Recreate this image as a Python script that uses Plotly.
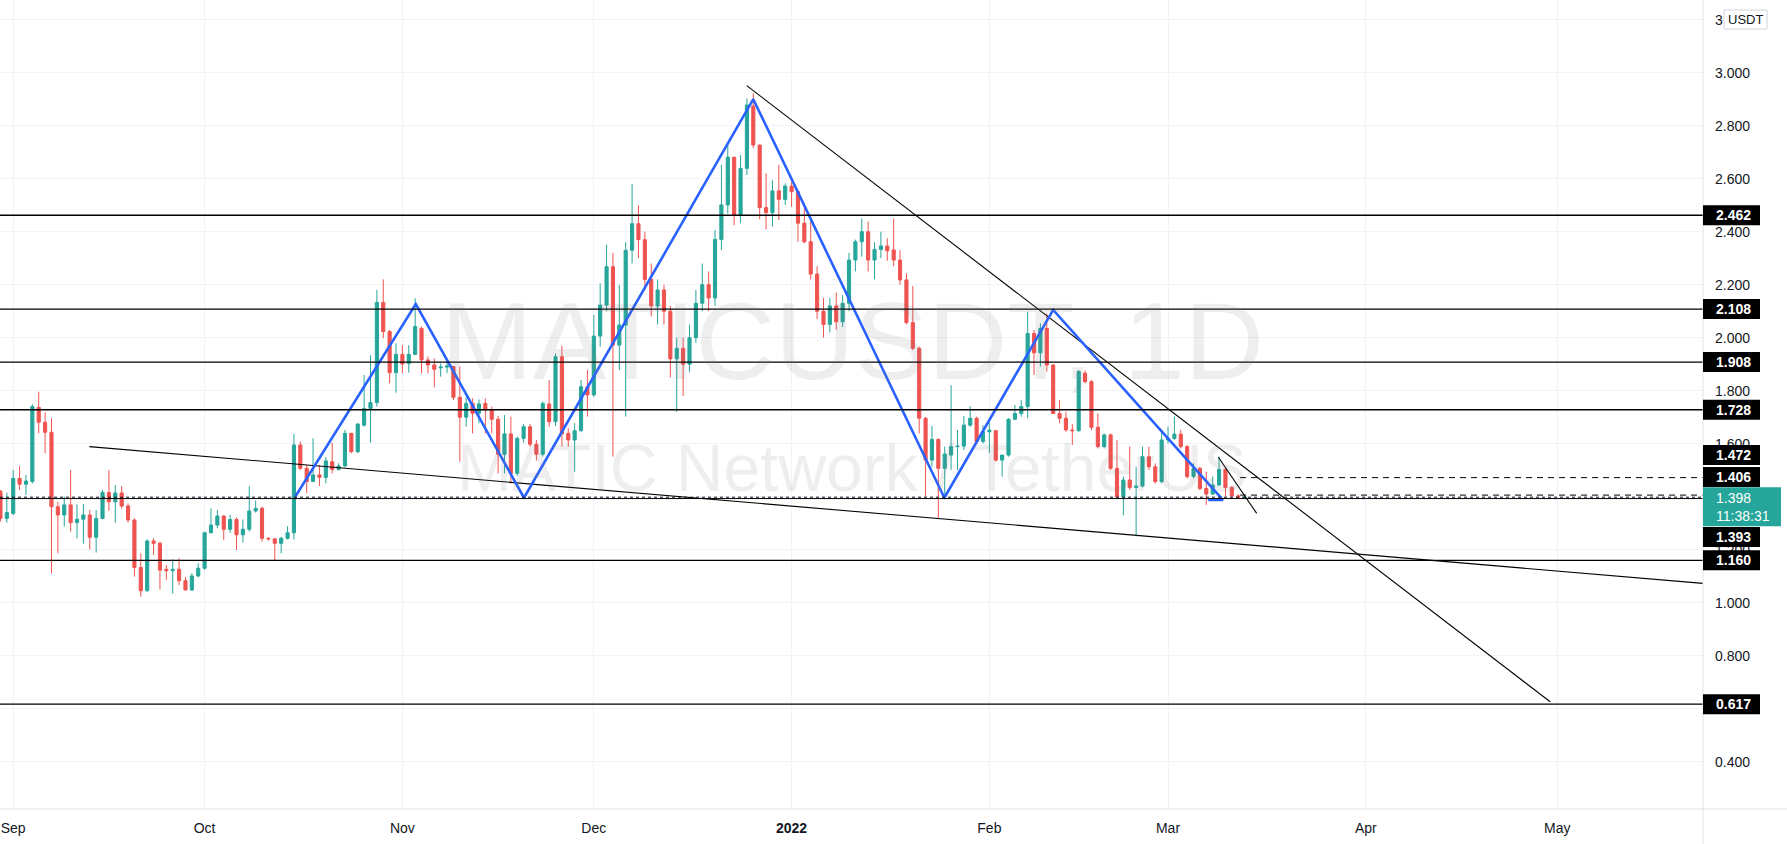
import pandas as pd
import plotly.graph_objects as go

# ---------------- data ----------------
first_day = "2021-08-30"
opens = [1.421,1.318,1.337,1.469,1.447,1.457,1.737,1.681,1.643,1.362,1.331,1.369,1.302,1.315,1.331,1.247,1.318,1.416,1.381,1.414,1.365,1.312,1.133,1.045,1.233,1.224,1.126,1.121,1.126,1.083,1.048,1.101,1.130,1.264,1.293,1.327,1.277,1.314,1.256,1.277,1.346,1.356,1.243,1.241,1.224,1.243,
         1.264,1.595,1.507,1.457,1.482,1.473,1.532,1.503,1.516,1.639,1.570,1.670,1.733,1.755,2.133,2.023,1.868,1.937,1.903,1.937,2.035,1.916,1.897,1.886,1.889,1.891,1.775,1.700,1.752,1.715,1.752,1.727,1.692,1.560,1.637,1.488,1.620,1.664,1.598,1.560,1.750,1.683,1.928,1.639,1.614,1.649,1.815,1.784,2.006,2.123,2.268,1.972,2.048,
         2.330,2.430,2.370,2.220,2.120,2.180,2.100,1.920,1.960,1.900,2.000,2.130,2.200,2.150,
         2.371,2.501,2.681,2.463,2.639,2.874,2.727,2.491,2.472,2.554,2.522,2.572,2.551,2.432,
         2.362,2.240,2.100,2.050,2.120,2.060,2.130,2.293,2.362,2.400,2.293,2.333,2.346,2.331,2.293,
         2.218,2.057,1.960,1.696,1.538,1.616,1.507,1.557,1.589,1.591,1.670,1.696,1.608,1.645,1.649,1.538,1.557,1.692,1.714,1.740,2.016,1.943,2.035,1.897,1.714,1.696,1.652,1.649,1.866,1.834,1.662,1.589,1.633,1.507,1.400,1.463,1.435,1.440,1.551,1.513,1.457,1.614,1.620,1.636,1.589,1.476,1.507,1.431,1.410,1.444,1.503,1.435,1.403,1.396]
highs = [1.425,1.415,1.501,1.516,1.482,1.749,1.796,1.718,1.696,1.381,1.400,1.501,1.371,1.372,1.350,1.350,1.425,1.501,1.444,1.440,1.375,1.318,1.186,1.239,1.243,1.230,1.142,1.164,1.168,1.098,1.111,1.149,1.268,1.356,1.350,1.331,1.331,1.322,1.314,1.440,1.385,1.362,1.247,1.241,1.249,1.289,
         1.637,1.608,1.520,1.620,1.520,1.549,1.604,1.526,1.652,1.641,1.677,1.859,1.934,2.180,2.220,2.029,1.979,1.972,1.972,2.149,2.042,1.929,1.922,1.903,1.910,1.893,1.891,1.775,1.771,1.767,1.771,1.740,1.705,1.708,1.702,1.627,1.674,1.674,1.614,1.759,1.840,1.941,1.969,1.658,1.677,1.840,1.878,2.086,2.205,2.350,2.320,2.199,2.360,
         2.580,2.500,2.400,2.280,2.220,2.200,2.120,2.000,2.000,2.050,2.180,2.280,2.250,2.406,
         2.652,2.736,2.683,2.689,2.903,2.922,2.727,2.620,2.595,2.652,2.582,2.589,2.557,2.507,
         2.450,2.270,2.150,2.150,2.170,2.160,2.320,2.370,2.450,2.438,2.360,2.400,2.375,2.450,2.330,
         2.243,2.195,1.966,1.700,1.667,1.620,1.589,1.821,1.652,1.704,1.742,1.702,1.670,1.679,1.652,1.557,1.696,1.746,1.765,2.098,2.029,2.054,2.092,1.900,1.765,1.721,1.674,1.878,1.876,1.840,1.714,1.639,1.639,1.614,1.476,1.589,1.513,1.589,1.589,1.526,1.652,1.664,1.702,1.652,1.595,1.526,1.513,1.494,1.476,1.551,1.511,1.440,1.410,1.410]
lows = [1.306,1.302,1.331,1.425,1.406,1.450,1.639,1.564,1.111,1.186,1.287,1.268,1.243,1.222,1.201,1.189,1.315,1.347,1.302,1.355,1.302,1.098,1.023,1.042,1.180,1.050,1.086,1.035,1.067,1.046,1.045,1.096,1.124,1.262,1.281,1.237,1.264,1.199,1.227,1.268,1.340,1.230,1.234,1.161,1.186,1.239,
        1.239,1.501,1.413,1.457,1.440,1.450,1.488,1.498,1.511,1.564,1.564,1.664,1.604,1.740,1.998,1.828,1.792,1.866,1.868,1.935,1.866,1.866,1.813,1.853,1.866,1.765,1.532,1.664,1.639,1.677,1.639,1.639,1.488,1.488,1.450,1.478,1.604,1.589,1.536,1.551,1.664,1.667,1.589,1.589,1.494,1.645,1.702,1.777,1.966,2.100,1.551,1.878,1.702,
        2.280,2.300,2.180,2.080,2.050,2.050,1.850,1.720,1.780,1.870,1.980,2.100,2.100,2.120,
        2.330,2.469,2.425,2.432,2.614,2.715,2.447,2.409,2.419,2.444,2.501,2.494,2.362,2.356,
        2.220,2.070,2.000,2.020,2.030,2.040,2.100,2.250,2.306,2.250,2.220,2.300,2.290,2.270,2.200,
        2.050,1.953,1.639,1.400,1.513,1.320,1.390,1.501,1.501,1.576,1.664,1.601,1.601,1.564,1.532,1.476,1.551,1.689,1.702,1.696,1.859,1.891,1.872,1.714,1.677,1.645,1.595,1.645,1.828,1.652,1.582,1.582,1.501,1.394,1.330,1.425,1.250,1.435,1.501,1.450,1.450,1.601,1.614,1.582,1.469,1.469,1.425,1.369,1.407,1.440,1.400,1.394,1.394,1.393]
closes = [1.318,1.340,1.469,1.447,1.459,1.740,1.681,1.643,1.362,1.331,1.369,1.302,1.315,1.331,1.247,1.318,1.416,1.381,1.414,1.365,1.312,1.133,1.045,1.233,1.224,1.123,1.121,1.126,1.083,1.048,1.101,1.130,1.264,1.293,1.327,1.277,1.314,1.256,1.277,1.346,1.356,1.243,1.241,1.224,1.243,1.264,
          1.595,1.507,1.457,1.482,1.473,1.535,1.503,1.516,1.639,1.570,1.674,1.733,1.755,2.133,2.023,1.868,1.937,1.901,1.937,2.042,1.916,1.897,1.881,1.889,1.893,1.775,1.700,1.752,1.715,1.750,1.727,1.692,1.560,1.637,1.488,1.620,1.664,1.598,1.560,1.752,1.683,1.928,1.637,1.614,1.649,1.815,1.784,2.006,2.123,2.268,1.972,2.048,2.330,
          2.430,2.370,2.220,2.120,2.180,2.100,1.920,1.960,1.900,2.000,2.130,2.200,2.150,2.371,
          2.501,2.681,2.463,2.639,2.878,2.727,2.491,2.472,2.554,2.522,2.572,2.551,2.432,2.362,
          2.240,2.100,2.050,2.120,2.060,2.130,2.293,2.362,2.400,2.293,2.333,2.346,2.328,2.293,2.218,
          2.057,1.960,1.696,1.538,1.616,1.507,1.561,1.589,1.591,1.670,1.696,1.608,1.645,1.651,1.538,1.557,1.692,1.714,1.740,2.016,1.943,2.035,1.897,1.714,1.696,1.652,1.649,1.872,1.834,1.662,1.589,1.633,1.507,1.400,1.463,1.435,1.440,1.551,1.513,1.457,1.614,1.620,1.636,1.589,1.476,1.507,1.431,1.410,1.444,1.503,1.435,1.403,1.398,1.398]

level_prices = [2.462, 2.108, 1.908, 1.728, 1.160, 0.617]
support_price = 1.393
dashed_levels = [1.472, 1.406]
dashed_start = "2022-03-12 07:00"
last_price = 1.398
countdown = "11:38:31"

zigzag_dates = ["2021-10-15 04:48", "2021-11-03 02:24", "2021-11-20 01:26", "2021-12-26 00:00",
                "2022-01-24 22:33", "2022-02-11 00:00", "2022-03-09 14:24", "2022-03-07 07:12"]
zigzag_prices = [1.400, 2.127, 1.396, 2.900, 1.396, 2.105, 1.388, 1.388]

upper_trend_dates = ["2021-12-24 23:17", "2022-04-29 21:36"]
upper_trend_prices = [2.951, 0.626]
lower_trend_dates = ["2021-09-12 22:19", "2022-05-23 20:00"]
lower_trend_prices = [1.589, 1.073]
small_trend_dates = ["2022-03-08 21:36", "2022-03-14 21:36"]
small_trend_prices = [1.549, 1.337]

month_ticks = ["2021-09-01", "2021-10-01", "2021-11-01", "2021-12-01", "2022-01-01",
               "2022-02-01", "2022-03-01", "2022-04-01", "2022-05-01"]
month_labels = ["Sep", "Oct", "Nov", "Dec", "<b>2022</b>", "Feb", "Mar", "Apr", "May"]
price_ticks = [0.4, 0.6, 0.8, 1.0, 1.2, 1.4, 1.6, 1.8, 2.0, 2.2, 2.4, 2.6, 2.8, 3.0, 3.2]
# labels hidden under price tags in the reference are blank; "3.200" shows only its "3"
price_tick_text = ["0.400", "", "0.800", "1.000", "1.200", "", "1.600", "1.800", "2.000",
                   "2.200", "2.400", "2.600", "2.800", "3.000", "3"]
x_range = ["2021-08-29 22:20", "2022-05-23 20:24"]
y_range = [0.2215, 3.2743]

# ---------------- figure ----------------
dates = pd.date_range(first_day, periods=len(opens), freq="D")
UP, DOWN = "#26a69a", "#ef5350"
FONT = "Trebuchet MS, Liberation Sans, Arial, sans-serif"

fig = go.Figure()
fig.add_trace(go.Candlestick(
    x=dates, open=opens, high=highs, low=lows, close=closes,
    increasing=dict(line=dict(color=UP, width=1), fillcolor=UP),
    decreasing=dict(line=dict(color=DOWN, width=1), fillcolor=DOWN),
    whiskerwidth=0, hoverinfo="skip"))

line_black = dict(color="#000000", width=1.3)
for xs, ys in [(upper_trend_dates, upper_trend_prices), (lower_trend_dates, lower_trend_prices),
               (small_trend_dates, small_trend_prices)]:
    fig.add_trace(go.Scatter(x=xs, y=ys, mode="lines",
                             line=dict(color="#000000", width=1.1), hoverinfo="skip"))
for lv in dashed_levels:
    fig.add_trace(go.Scatter(x=[dashed_start, x_range[1]], y=[lv, lv], mode="lines",
                             line=dict(color="#000000", width=1, dash="6px,5px"), hoverinfo="skip"))
fig.add_trace(go.Scatter(x=zigzag_dates, y=zigzag_prices, mode="lines",
                         line=dict(color="#2962FF", width=2.6), hoverinfo="skip"))

shapes = []
for lv in level_prices:
    shapes.append(dict(type="line", xref="paper", x0=0, x1=1, yref="y", y0=lv, y1=lv,
                       line=line_black, layer="above"))
shapes.append(dict(type="line", xref="paper", x0=0, x1=1, yref="y", y0=support_price, y1=support_price,
                   line=dict(color="#000000", width=1), layer="above"))
shapes.append(dict(type="line", xref="paper", x0=0, x1=1, yref="y", y0=last_price, y1=last_price,
                   line=dict(color="#131722", width=1, dash="dot"), layer="above"))
# axis frame lines
shapes.append(dict(type="line", xref="paper", yref="paper", x0=1, x1=1, y0=-35/809, y1=1,
                   line=dict(color="#e0e3eb", width=1)))
shapes.append(dict(type="line", xref="paper", yref="paper", x0=0, x1=1787/1703, y0=0, y1=0,
                   line=dict(color="#e0e3eb", width=1)))

annotations = []
def price_label(price, text, shift=0, bg="#000000", width=57, h_up=10, h_dn=10, bold=True):
    shapes.append(dict(type="rect", xref="paper", yref="y", xsizemode="pixel", ysizemode="pixel",
                       xanchor=1, yanchor=price, x0=0, x1=width, y0=shift + h_up, y1=shift - h_dn,
                       fillcolor=bg, line=dict(width=0), layer="above"))
    annotations.append(dict(xref="paper", yref="y", x=1, y=price, xanchor="left", yanchor="middle",
                            xshift=11, yshift=shift, showarrow=False, align="left",
                            text=("<b>%s</b>" % text) if bold else text,
                            font=dict(family=FONT, size=14, color="#ffffff")))

for lv in level_prices:
    price_label(lv, "%.3f" % lv)
price_label(dashed_levels[0], "%.3f" % dashed_levels[0], 22.5)
price_label(dashed_levels[1], "%.3f" % dashed_levels[1], 18.0)
price_label(support_price, "%.3f" % support_price, -38.5)
# current price label (two lines)
shapes.append(dict(type="rect", xref="paper", yref="y", xsizemode="pixel", ysizemode="pixel",
                   xanchor=1, yanchor=last_price, x0=0, x1=78, y0=10, y1=-29,
                   fillcolor=UP, line=dict(width=0), layer="above"))
annotations.append(dict(xref="paper", yref="y", x=1, y=last_price, xanchor="left", yanchor="middle",
                        xshift=11, yshift=-9.5, showarrow=False, align="left",
                        text="%.3f<br>%s" % (last_price, countdown),
                        font=dict(family=FONT, size=14, color="#ffffff")))
# currency box
shapes.append(dict(type="rect", xref="paper", yref="paper", xsizemode="pixel", ysizemode="pixel",
                   xanchor=1, yanchor=1, x0=21, x1=64, y0=-10, y1=-29,
                   fillcolor="#ffffff", line=dict(color="#d1d4dc", width=1), layer="above"))
annotations.append(dict(xref="paper", yref="paper", x=1, y=1, xanchor="center", yanchor="middle",
                        xshift=42.5, yshift=-19.5, showarrow=False, text="USDT",
                        font=dict(family=FONT, size=13, color="#131722")))
# watermark
annotations.append(dict(xref="paper", yref="paper", x=852/1703, y=1 - 340/809, showarrow=False,
                        text="MATICUSDT, 1D", xanchor="center", yanchor="middle",
                        font=dict(family="Liberation Sans, Arial, sans-serif",
                                  size=110, color="rgba(120,123,134,0.13)")))
annotations.append(dict(xref="paper", yref="paper", x=852/1703, y=1 - 468/809, showarrow=False,
                        text="MATIC Network / TetherUS", xanchor="center", yanchor="middle",
                        font=dict(family="Liberation Sans, Arial, sans-serif",
                                  size=66, color="rgba(120,123,134,0.13)")))

fig.update_layout(
    width=1787, height=844, margin=dict(l=0, r=84, t=0, b=35),
    paper_bgcolor="#ffffff", plot_bgcolor="#ffffff", showlegend=False,
    shapes=shapes, annotations=annotations,
    font=dict(family=FONT, size=14, color="#131722"),
    xaxis=dict(type="date", range=x_range, rangeslider=dict(visible=False),
               tickvals=month_ticks, ticktext=month_labels, showgrid=True, gridcolor="#f0f3fa",
               gridwidth=1, zeroline=False, showline=False, ticks="", ticklabelstandoff=9,
               tickfont=dict(family=FONT, size=14, color="#131722")),
    yaxis=dict(range=y_range, side="right", tickvals=price_ticks,
               ticktext=price_tick_text, showgrid=True, gridcolor="#f0f3fa",
               zeroline=False, showline=False, ticks="", ticklabelstandoff=11,
               tickfont=dict(family=FONT, size=14, color="#131722")),
)
fig.write_html("out.html")
